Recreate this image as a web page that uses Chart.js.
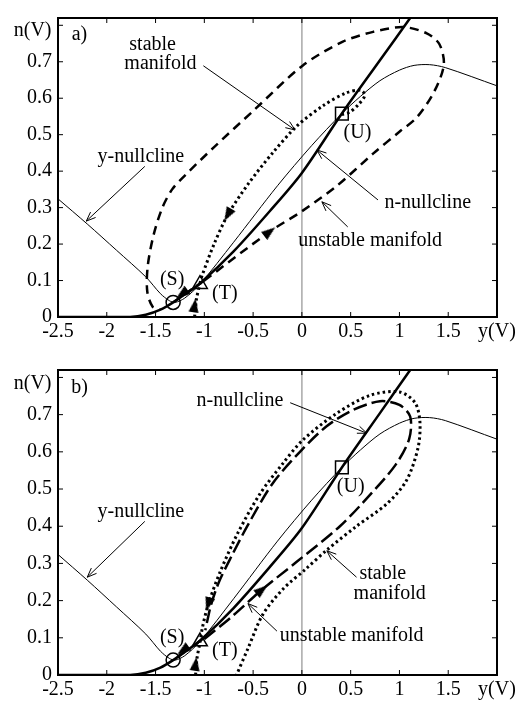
<!DOCTYPE html>
<html>
<head>
<meta charset="utf-8">
<title>Phase plane a) b)</title>
<script src="https://cdn.jsdelivr.net/npm/chart.js"></script>
<style>
  body { margin: 0; background: #fff; }
  canvas { display: block; }
</style>
</head>
<body>
<canvas id="chartA" width="531" height="352"></canvas>
<canvas id="chartB" width="531" height="352"></canvas>
<script>
// axes
const xTickValues = [-2.5, -2, -1.5, -1, -0.5, 0, 0.5, 1, 1.5, 2];
const xTickLabels = ['-2.5', '-2', '-1.5', '-1', '-0.5', '0', '0.5', '1', '1.5', 'y(V)'];
const yTickValues = [0, 0.1, 0.2, 0.3, 0.4, 0.5, 0.6, 0.7, 0.8];
const yTickLabels = ['0', '0.1', '0.2', '0.3', '0.4', '0.5', '0.6', '0.7', ''];

// curves, [y(V), n(V)]
const zeroLine = [[0, 0], [0, 0.82]];
const yNullcline = [[-2.5, 0.324], [-2.2, 0.255], [-1.9, 0.183], [-1.6, 0.11], [-1.45, 0.064], [-1.36, 0.045],
  [-1.3, 0.04], [-1.2, 0.052], [-1.045, 0.09], [-0.7, 0.205], [-0.25, 0.36], [0.1, 0.47], [0.41, 0.558],
  [0.6, 0.605], [0.8, 0.648], [1.0, 0.677], [1.15, 0.69], [1.31, 0.692], [1.47, 0.684], [2.0, 0.634]];
const nNullcline = [[-2.5, 0], [-1.76, 0], [-1.6, 0.006], [-1.45, 0.02], [-1.32, 0.04], [-1.2, 0.062],
  [-1.045, 0.092], [-0.7, 0.18], [-0.33, 0.29], [0, 0.395], [0.41, 0.558], [0.8, 0.704], [1.11, 0.82]];
const toS = [[-1.0, 0.1], [-1.32, 0.04]];

// equilibria S, T, U
const equilibria = [[-1.32, 0.04], [-1.045, 0.09], [0.41, 0.558]];

// panel a
const unstableA = [[-1.0, 0.1], [-0.33, 0.234], [0.0, 0.29], [0.36, 0.36], [0.73, 0.448], [1.0, 0.508],
  [1.18, 0.548], [1.36, 0.62], [1.455, 0.692], [1.41, 0.748], [1.28, 0.778], [1.04, 0.795], [0.73, 0.782],
  [0.42, 0.755], [0.01, 0.69], [-0.5, 0.565], [-0.9, 0.466], [-1.2, 0.388], [-1.33, 0.35],
  [-1.43, 0.3], [-1.52, 0.225], [-1.58, 0.14], [-1.585, 0.07], [-1.53, 0.028], [-1.45, 0.02]];
const stableA = [[-1.045, 0.092], [-1.02, 0.116], [-0.9, 0.2], [-0.76, 0.28], [-0.55, 0.365], [-0.3, 0.45],
  [-0.05, 0.524], [0.22, 0.58], [0.45, 0.614], [0.6, 0.622], [0.645, 0.608], [0.58, 0.583],
  [0.49, 0.562], [0.41, 0.555]];
const stableLowA = [[-1.1, 0], [-1.08, 0.05], [-1.045, 0.092]];
const arrowsA = [[-0.33, 0.234], [-1.23, 0.063], [-0.76, 0.28], [-1.1, 0.032]];
const arrowAnglesA = [52, 234, 209, 9];

// panel b
const unstableB = [[-1.0, 0.097], [-0.74, 0.152], [-0.41, 0.229], [-0.05, 0.305], [0.39, 0.40], [0.70, 0.485],
  [0.96, 0.565], [1.1, 0.635], [1.11, 0.695], [1.0, 0.726], [0.80, 0.736], [0.52, 0.712], [0.25, 0.668],
  [-0.02, 0.60], [-0.3, 0.515], [-0.55, 0.405], [-0.72, 0.32], [-0.85, 0.25], [-0.93, 0.19],
  [-0.97, 0.145], [-0.99, 0.12]];
const stableB = [[-1.045, 0.087], [-1.02, 0.127], [-0.96, 0.19], [-0.84, 0.276], [-0.66, 0.38],
  [-0.43, 0.487], [-0.2, 0.567], [0.01, 0.632], [0.36, 0.704], [0.70, 0.752], [1.0, 0.761], [1.16, 0.732],
  [1.21, 0.68], [1.19, 0.61], [1.07, 0.522], [0.87, 0.46], [0.56, 0.40], [0.26, 0.337], [0.04, 0.285],
  [-0.19, 0.232], [-0.40, 0.163], [-0.55, 0.073], [-0.67, 0]];
const stableLowB = [[-1.09, 0], [-1.075, 0.045], [-1.045, 0.087]];
const arrowsB = [[-0.41, 0.229], [-1.22, 0.066], [-0.96, 0.19], [-1.09, 0.03]];
const arrowAnglesB = [51, 234, 197, 8];

// text and pointers, in data units
const labelsA = [
  ['a)', -2.28, 0.774], ['stable', -1.53, 0.747], ['manifold', -1.45, 0.695], ['y-nullcline', -1.65, 0.44],
  ['(U)', 0.57, 0.505], ['n-nullcline', 1.29, 0.313], ['unstable manifold', 0.70, 0.21],
  ['(S)', -1.33, 0.103], ['(T)', -0.79, 0.063], ['n(V)', -2.76, 0.786]];
const pointersA = [
  [-1.01, 0.689, -0.07, 0.513], [-1.61, 0.413, -2.21, 0.263], [0.78, 0.321, 0.154, 0.458], [0.47, 0.247, 0.205, 0.316]];
const labelsB = [
  ['b)', -2.28, 0.771], ['n-nullcline', -0.635, 0.737], ['y-nullcline', -1.65, 0.44], ['(U)', 0.50, 0.505],
  ['stable', 0.83, 0.271], ['manifold', 0.90, 0.218], ['unstable manifold', 0.51, 0.105],
  ['(S)', -1.33, 0.10], ['(T)', -0.79, 0.066], ['n(V)', -2.76, 0.784]];
const pointersB = [
  [-0.12, 0.732, 0.666, 0.650], [-1.61, 0.413, -2.20, 0.263], [0.56, 0.263, 0.256, 0.334], [-0.256, 0.118, -0.553, 0.192]];

const FONT = '"Liberation Serif", "Times New Roman", serif';
Chart.defaults.font.family = FONT;
Chart.defaults.font.size = 20;
Chart.defaults.color = '#000';

const pts = arr => arr.map(p => ({ x: p[0], y: p[1] }));

function arrowHead() {
  const c = document.createElement('canvas');
  c.width = 10; c.height = 14;
  const g = c.getContext('2d');
  g.fillStyle = '#000';
  g.beginPath();
  g.moveTo(5, 0); g.lineTo(10, 14); g.lineTo(0, 14);
  g.closePath(); g.fill();
  return c;
}
const headImg = arrowHead();

function curve(data, width, dash, extra) {
  return Object.assign({
    data: pts(data), showLine: true, pointRadius: 0, borderColor: '#000',
    borderWidth: width, borderDash: dash, tension: 0.3, fill: false
  }, extra || {});
}

const decor = {
  id: 'decor',
  afterDatasetsDraw(chart, args, opts) {
    const { ctx, chartArea: a, scales: { x, y } } = chart;
    const seg = (x0, y0, x1, y1) => { ctx.beginPath(); ctx.moveTo(x0, y0); ctx.lineTo(x1, y1); ctx.stroke(); };
    ctx.save();
    ctx.strokeStyle = '#000';
    ctx.lineWidth = 2;
    ctx.strokeRect(a.left, a.top, a.right - a.left, a.bottom - a.top);
    ctx.lineWidth = 1;
    xTickValues.forEach(v => {
      const px = x.getPixelForValue(v);
      seg(px, a.bottom, px, a.bottom - 5);
      seg(px, a.top, px, a.top + 5);
    });
    yTickValues.forEach(v => {
      const py = y.getPixelForValue(v);
      seg(a.left, py, a.left + 5, py);
      seg(a.right, py, a.right - 5, py);
    });
    // pointers with open heads
    opts.pointers.forEach(p => {
      const x0 = x.getPixelForValue(p[0]), y0 = y.getPixelForValue(p[1]);
      const x1 = x.getPixelForValue(p[2]), y1 = y.getPixelForValue(p[3]);
      seg(x0, y0, x1, y1);
      const ang = Math.atan2(y1 - y0, x1 - x0), L = 10, w = 0.38;
      ctx.beginPath();
      ctx.moveTo(x1 - L * Math.cos(ang - w), y1 - L * Math.sin(ang - w));
      ctx.lineTo(x1, y1);
      ctx.lineTo(x1 - L * Math.cos(ang + w), y1 - L * Math.sin(ang + w));
      ctx.stroke();
    });
    ctx.fillStyle = '#000';
    ctx.font = '20px ' + FONT;
    ctx.textAlign = 'center';
    ctx.textBaseline = 'middle';
    opts.labels.forEach(l => ctx.fillText(l[0], x.getPixelForValue(l[1]), y.getPixelForValue(l[2])));
    ctx.restore();
  }
};

function makeChart(id, p) {
  return new Chart(document.getElementById(id), {
    type: 'scatter',
    data: {
      datasets: [
        {
          data: pts(equilibria), pointStyle: ['circle', 'triangle', 'rect'], pointRadius: [7, 8.5, 9],
          pointBorderWidth: 1.5, pointBorderColor: '#000', pointBackgroundColor: 'rgba(0,0,0,0)'
        },
        {
          data: pts(p.arrows), pointStyle: headImg, pointRotation: p.angles, pointRadius: 6
        },
        curve(p.stable, 3, [2.5, 3]),
        curve(p.stableLow, 3, [2.5, 3]),
        curve(p.unstable, 2.5, p.dash),
        curve(toS, 2.5, p.dash, { tension: 0 }),
        curve(nNullcline, 2.5, []),
        curve(yNullcline, 1, []),
        curve(zeroLine, 1.5, [], { borderColor: '#a8a8a8', tension: 0 })
      ]
    },
    options: {
      responsive: false,
      animation: false,
      events: [],
      layout: { padding: { top: p.top, right: 34, left: 0, bottom: 0 } },
      plugins: {
        legend: { display: false },
        tooltip: { enabled: false },
        decor: { labels: p.labels, pointers: p.pointers }
      },
      scales: {
        x: {
          type: 'linear', min: -2.5, max: 2,
          grid: { display: false, drawTicks: false },
          border: { display: false },
          afterBuildTicks: s => { s.ticks = xTickValues.map(v => ({ value: v })); },
          afterFit: s => { s.height = p.xh; },
          ticks: { padding: 3, maxRotation: 0, autoSkip: false, callback: (v, i) => xTickLabels[i] }
        },
        y: {
          type: 'linear', min: 0, max: 0.82,
          grid: { display: false, drawTicks: false },
          border: { display: false },
          afterBuildTicks: s => { s.ticks = yTickValues.map(v => ({ value: v })); },
          afterFit: s => { s.width = 58; },
          ticks: { padding: 6, autoSkip: false, callback: (v, i) => yTickLabels[i] }
        }
      }
    },
    plugins: [decor]
  });
}

makeChart('chartA', {
  top: 4, xh: 35, stable: stableA, stableLow: stableLowA, unstable: unstableA, dash: [9, 6],
  arrows: arrowsA, angles: arrowAnglesA, labels: labelsA, pointers: pointersA
});
makeChart('chartB', {
  top: 11, xh: 29, stable: stableB, stableLow: stableLowB, unstable: unstableB, dash: [14, 5],
  arrows: arrowsB, angles: arrowAnglesB, labels: labelsB, pointers: pointersB
});
</script>
</body>
</html>
